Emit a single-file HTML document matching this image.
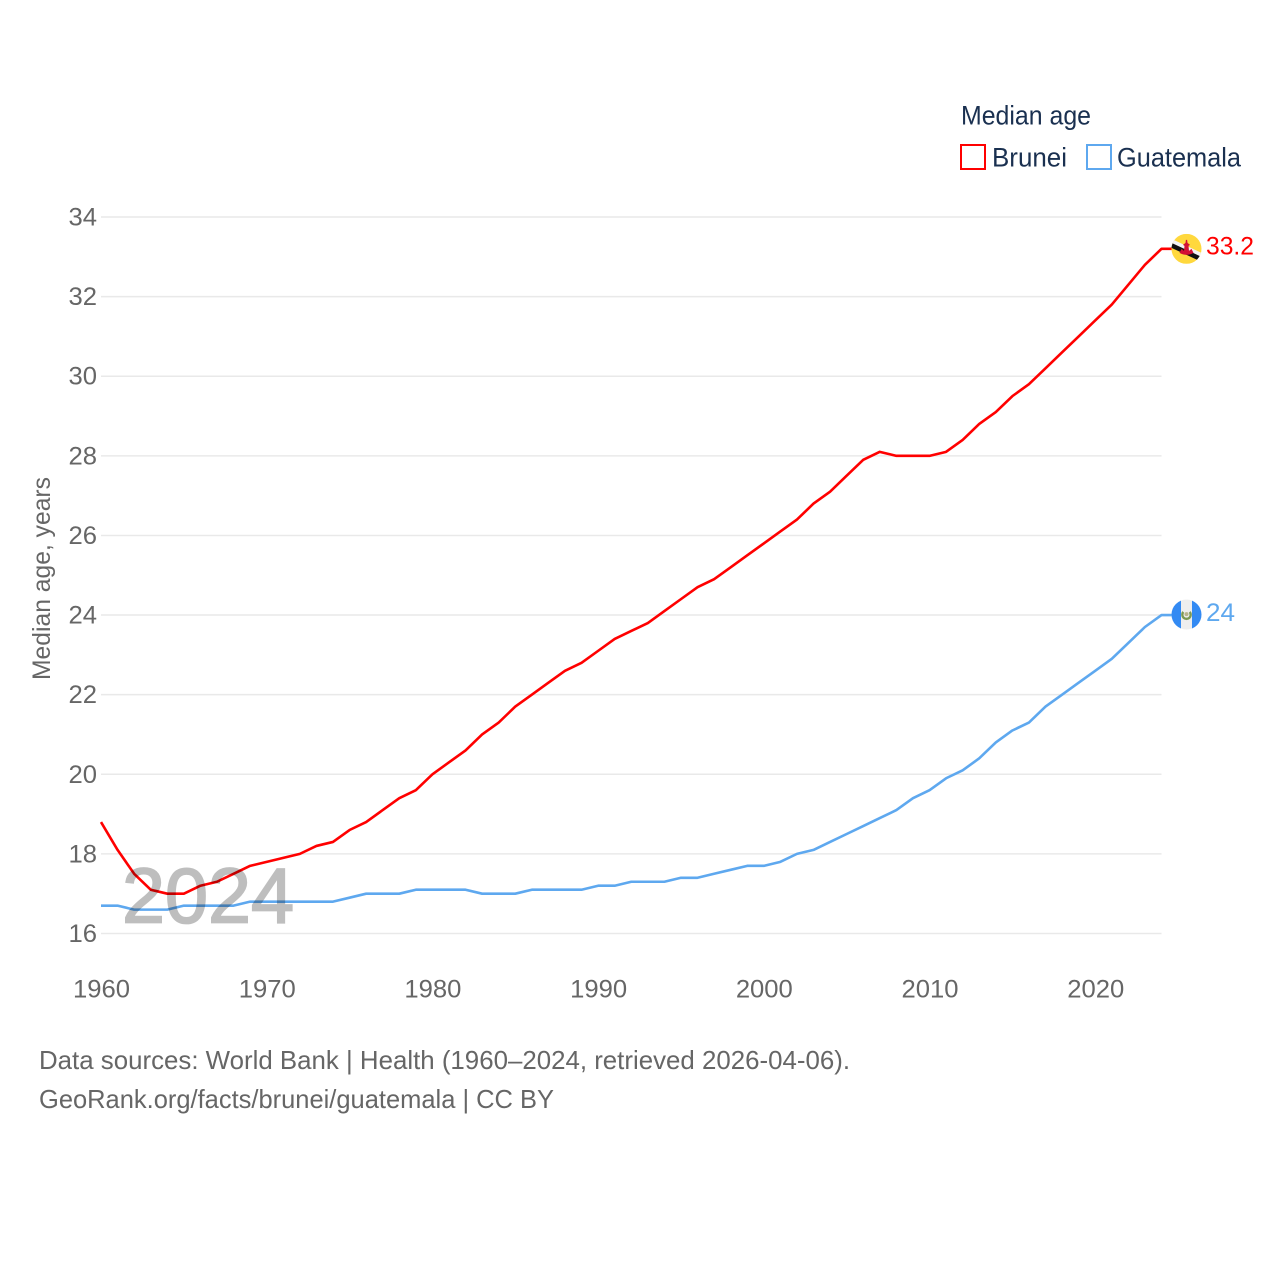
<!DOCTYPE html>
<html lang="en">
<head>
<meta charset="utf-8">
<title>Median age: Brunei and Guatemala</title>
<style>
html,body{margin:0;padding:0;background:#fff;width:1280px;height:1280px;overflow:hidden}
svg{display:block;font-family:"Liberation Sans",sans-serif}
</style>
</head>
<body>
<svg id="chart" width="1280" height="1280" viewBox="0 0 1280 1280" xmlns="http://www.w3.org/2000/svg">
  <rect width="1280" height="1280" fill="#fff"/>
  <g id="grid"></g>
  <g id="yticks"></g>
  <g id="xticks"></g>
  <text transform="translate(50,680) rotate(-90)" font-size="25" fill="#666" textLength="203" lengthAdjust="spacingAndGlyphs">Median age, years</text>
  <g id="series"></g>
  <text x="122" y="922.5" font-size="78" fill="#000" stroke="#000" stroke-width="1.8" opacity="0.25" textLength="172" lengthAdjust="spacingAndGlyphs">2024</text>

  <g id="flag-brunei">
    <defs>
      <clipPath id="clip-bn"><circle cx="0" cy="0" r="15"/></clipPath>
      <clipPath id="clip-gt"><circle cx="0" cy="0" r="15"/></clipPath>
    </defs>
    <g clip-path="url(#clip-bn)">
      <rect x="-15" y="-15" width="30" height="30" fill="#ffd83d"/>
      <polygon points="-15,-10 15,4 15,10 -15,-4" fill="#f4f4f4"/>
      <polygon points="-15,-6 15,8 15,13 -15,-1" fill="#111"/>
      <path d="M-7,4 Q0,8 7,4 L5,0 L2.5,2 L2,-3 L3.5,-4 L1,-6 L0.6,-9 L-0.6,-9 L-1,-6 L-3.5,-4 L-2,-3 L-2.5,2 L-5,0 Z" fill="#d21034"/>
    </g>
  </g>
  <g id="flag-guatemala">
    <g clip-path="url(#clip-gt)">
      <rect x="-15" y="-15" width="30" height="30" fill="#eee"/>
      <rect x="-15" y="-15" width="9.5" height="30" fill="#338af3"/>
      <rect x="5.5" y="-15" width="9.5" height="30" fill="#338af3"/>
      <path d="M-3.2,-2.6 A4.2,4.2 0 1 0 3.2,-2.6" fill="none" stroke="#7d9a55" stroke-width="2.4"/>
      <circle cx="0" cy="-0.4" r="2" fill="#b9b48c"/>
    </g>
  </g>
  <text id="label-brunei" font-size="25" fill="#ff0000" textLength="48" lengthAdjust="spacingAndGlyphs"></text>
  <text id="label-guatemala" font-size="25" fill="#5ea8ef" textLength="29" lengthAdjust="spacingAndGlyphs"></text>

  <g>
    <text x="961" y="124.5" font-size="27" fill="#1a3050" textLength="130" lengthAdjust="spacingAndGlyphs">Median age</text>
    <g>
      <rect x="961" y="145" width="24" height="24" fill="#fff" stroke="#ff0000" stroke-width="2"/>
      <text x="992" y="166.5" font-size="27" fill="#1a3050" textLength="75" lengthAdjust="spacingAndGlyphs">Brunei</text>
    </g>
    <g>
      <rect x="1087" y="145" width="24" height="24" fill="#fff" stroke="#5ea8ef" stroke-width="2"/>
      <text x="1117" y="166.5" font-size="27" fill="#1a3050" textLength="124" lengthAdjust="spacingAndGlyphs">Guatemala</text>
    </g>
  </g>

  <text x="39" y="1069" font-size="26" fill="#666" textLength="811" lengthAdjust="spacingAndGlyphs">Data sources: World Bank | Health (1960–2024, retrieved 2026-04-06).</text>
  <text x="39" y="1108" font-size="26" fill="#666" textLength="515" lengthAdjust="spacingAndGlyphs">GeoRank.org/facts/brunei/guatemala | CC BY</text>
</svg>
<script>
const startYear = 1960;
const yTickValues = [16, 18, 20, 22, 24, 26, 28, 30, 32, 34];
const xTickValues = [1960, 1970, 1980, 1990, 2000, 2010, 2020];
const bruneiValues = [18.8,18.1,17.5,17.1,17.0,17.0,17.2,17.3,17.5,17.7,17.8,17.9,18.0,18.2,18.3,18.6,18.8,19.1,19.4,19.6,20.0,20.3,20.6,21.0,21.3,21.7,22.0,22.3,22.6,22.8,23.1,23.4,23.6,23.8,24.1,24.4,24.7,24.9,25.2,25.5,25.8,26.1,26.4,26.8,27.1,27.5,27.9,28.1,28.0,28.0,28.0,28.1,28.4,28.8,29.1,29.5,29.8,30.2,30.6,31.0,31.4,31.8,32.3,32.8,33.2];
const guatemalaValues = [16.7,16.7,16.6,16.6,16.6,16.7,16.7,16.7,16.7,16.8,16.8,16.8,16.8,16.8,16.8,16.9,17.0,17.0,17.0,17.1,17.1,17.1,17.1,17.0,17.0,17.0,17.1,17.1,17.1,17.1,17.2,17.2,17.3,17.3,17.3,17.4,17.4,17.5,17.6,17.7,17.7,17.8,18.0,18.1,18.3,18.5,18.7,18.9,19.1,19.4,19.6,19.9,20.1,20.4,20.8,21.1,21.3,21.7,22.0,22.3,22.6,22.9,23.3,23.7,24.0];

const NS = 'http://www.w3.org/2000/svg';
const plot = { left: 101, right: 1161.5, top: 217, bottom: 933.5 };
const yMin = 16, yMax = 34, xMin = 1960, xMax = 2024;
const x = function (year) { return plot.left + (year - xMin) / (xMax - xMin) * (plot.right - plot.left); };
const y = function (v) { return plot.bottom - (v - yMin) / (yMax - yMin) * (plot.bottom - plot.top); };

const grid = document.getElementById('grid');
const yticks = document.getElementById('yticks');
const xticks = document.getElementById('xticks');
const series = document.getElementById('series');

yTickValues.forEach(function (v) {
  const line = document.createElementNS(NS, 'line');
  
  
  line.setAttribute('x1', plot.left);
  line.setAttribute('x2', plot.right);
  line.setAttribute('y1', y(v));
  line.setAttribute('y2', y(v));
  line.setAttribute('stroke', '#e9e9e9');
  line.setAttribute('stroke-width', '1.5');
  grid.appendChild(line);

  const t = document.createElementNS(NS, 'text');
  
  
  t.setAttribute('x', 97);
  t.setAttribute('y', y(v) + 8.5);
  t.setAttribute('text-anchor', 'end');
  t.setAttribute('font-size', '25');
  t.setAttribute('fill', '#666');
  t.setAttribute('textLength', '28.5');
  t.setAttribute('lengthAdjust', 'spacingAndGlyphs');
  t.textContent = v;
  yticks.appendChild(t);
});

xTickValues.forEach(function (v) {
  const t = document.createElementNS(NS, 'text');
  
  
  t.setAttribute('x', x(v) - 28.5 + 0.5);
  t.setAttribute('y', 997.5);
  t.setAttribute('font-size', '25');
  t.setAttribute('fill', '#666');
  t.setAttribute('textLength', '57');
  t.setAttribute('lengthAdjust', 'spacingAndGlyphs');
  t.textContent = v;
  xticks.appendChild(t);
});

function drawSeries(values, color, name) {
  const pts = values.map(function (v, i) { return x(startYear + i).toFixed(2) + ',' + y(v).toFixed(2); });
  const lastY = y(values[values.length - 1]);
  pts.push('1172,' + lastY.toFixed(2));
  const pl = document.createElementNS(NS, 'polyline');
  
  
  pl.setAttribute('points', pts.join(' '));
  pl.setAttribute('fill', 'none');
  pl.setAttribute('stroke', color);
  pl.setAttribute('stroke-width', '2.6');
  pl.setAttribute('stroke-linejoin', 'round');
  series.appendChild(pl);
  return lastY;
}

const guatemalaY = drawSeries(guatemalaValues, '#5ea8ef', 'guatemala-line');
const bruneiY = drawSeries(bruneiValues, '#ff0000', 'brunei-line');

document.getElementById('flag-brunei').setAttribute('transform', 'translate(1186.5,' + bruneiY + ')');
document.getElementById('flag-guatemala').setAttribute('transform', 'translate(1186.5,' + (guatemalaY - 0.5) + ')');

const lb = document.getElementById('label-brunei');
lb.setAttribute('x', 1206);
lb.setAttribute('y', bruneiY + 5.5);
lb.textContent = bruneiValues[bruneiValues.length - 1];

const lg = document.getElementById('label-guatemala');
lg.setAttribute('x', 1206);
lg.setAttribute('y', guatemalaY + 6);
lg.textContent = guatemalaValues[guatemalaValues.length - 1];
</script>
</body>
</html>
